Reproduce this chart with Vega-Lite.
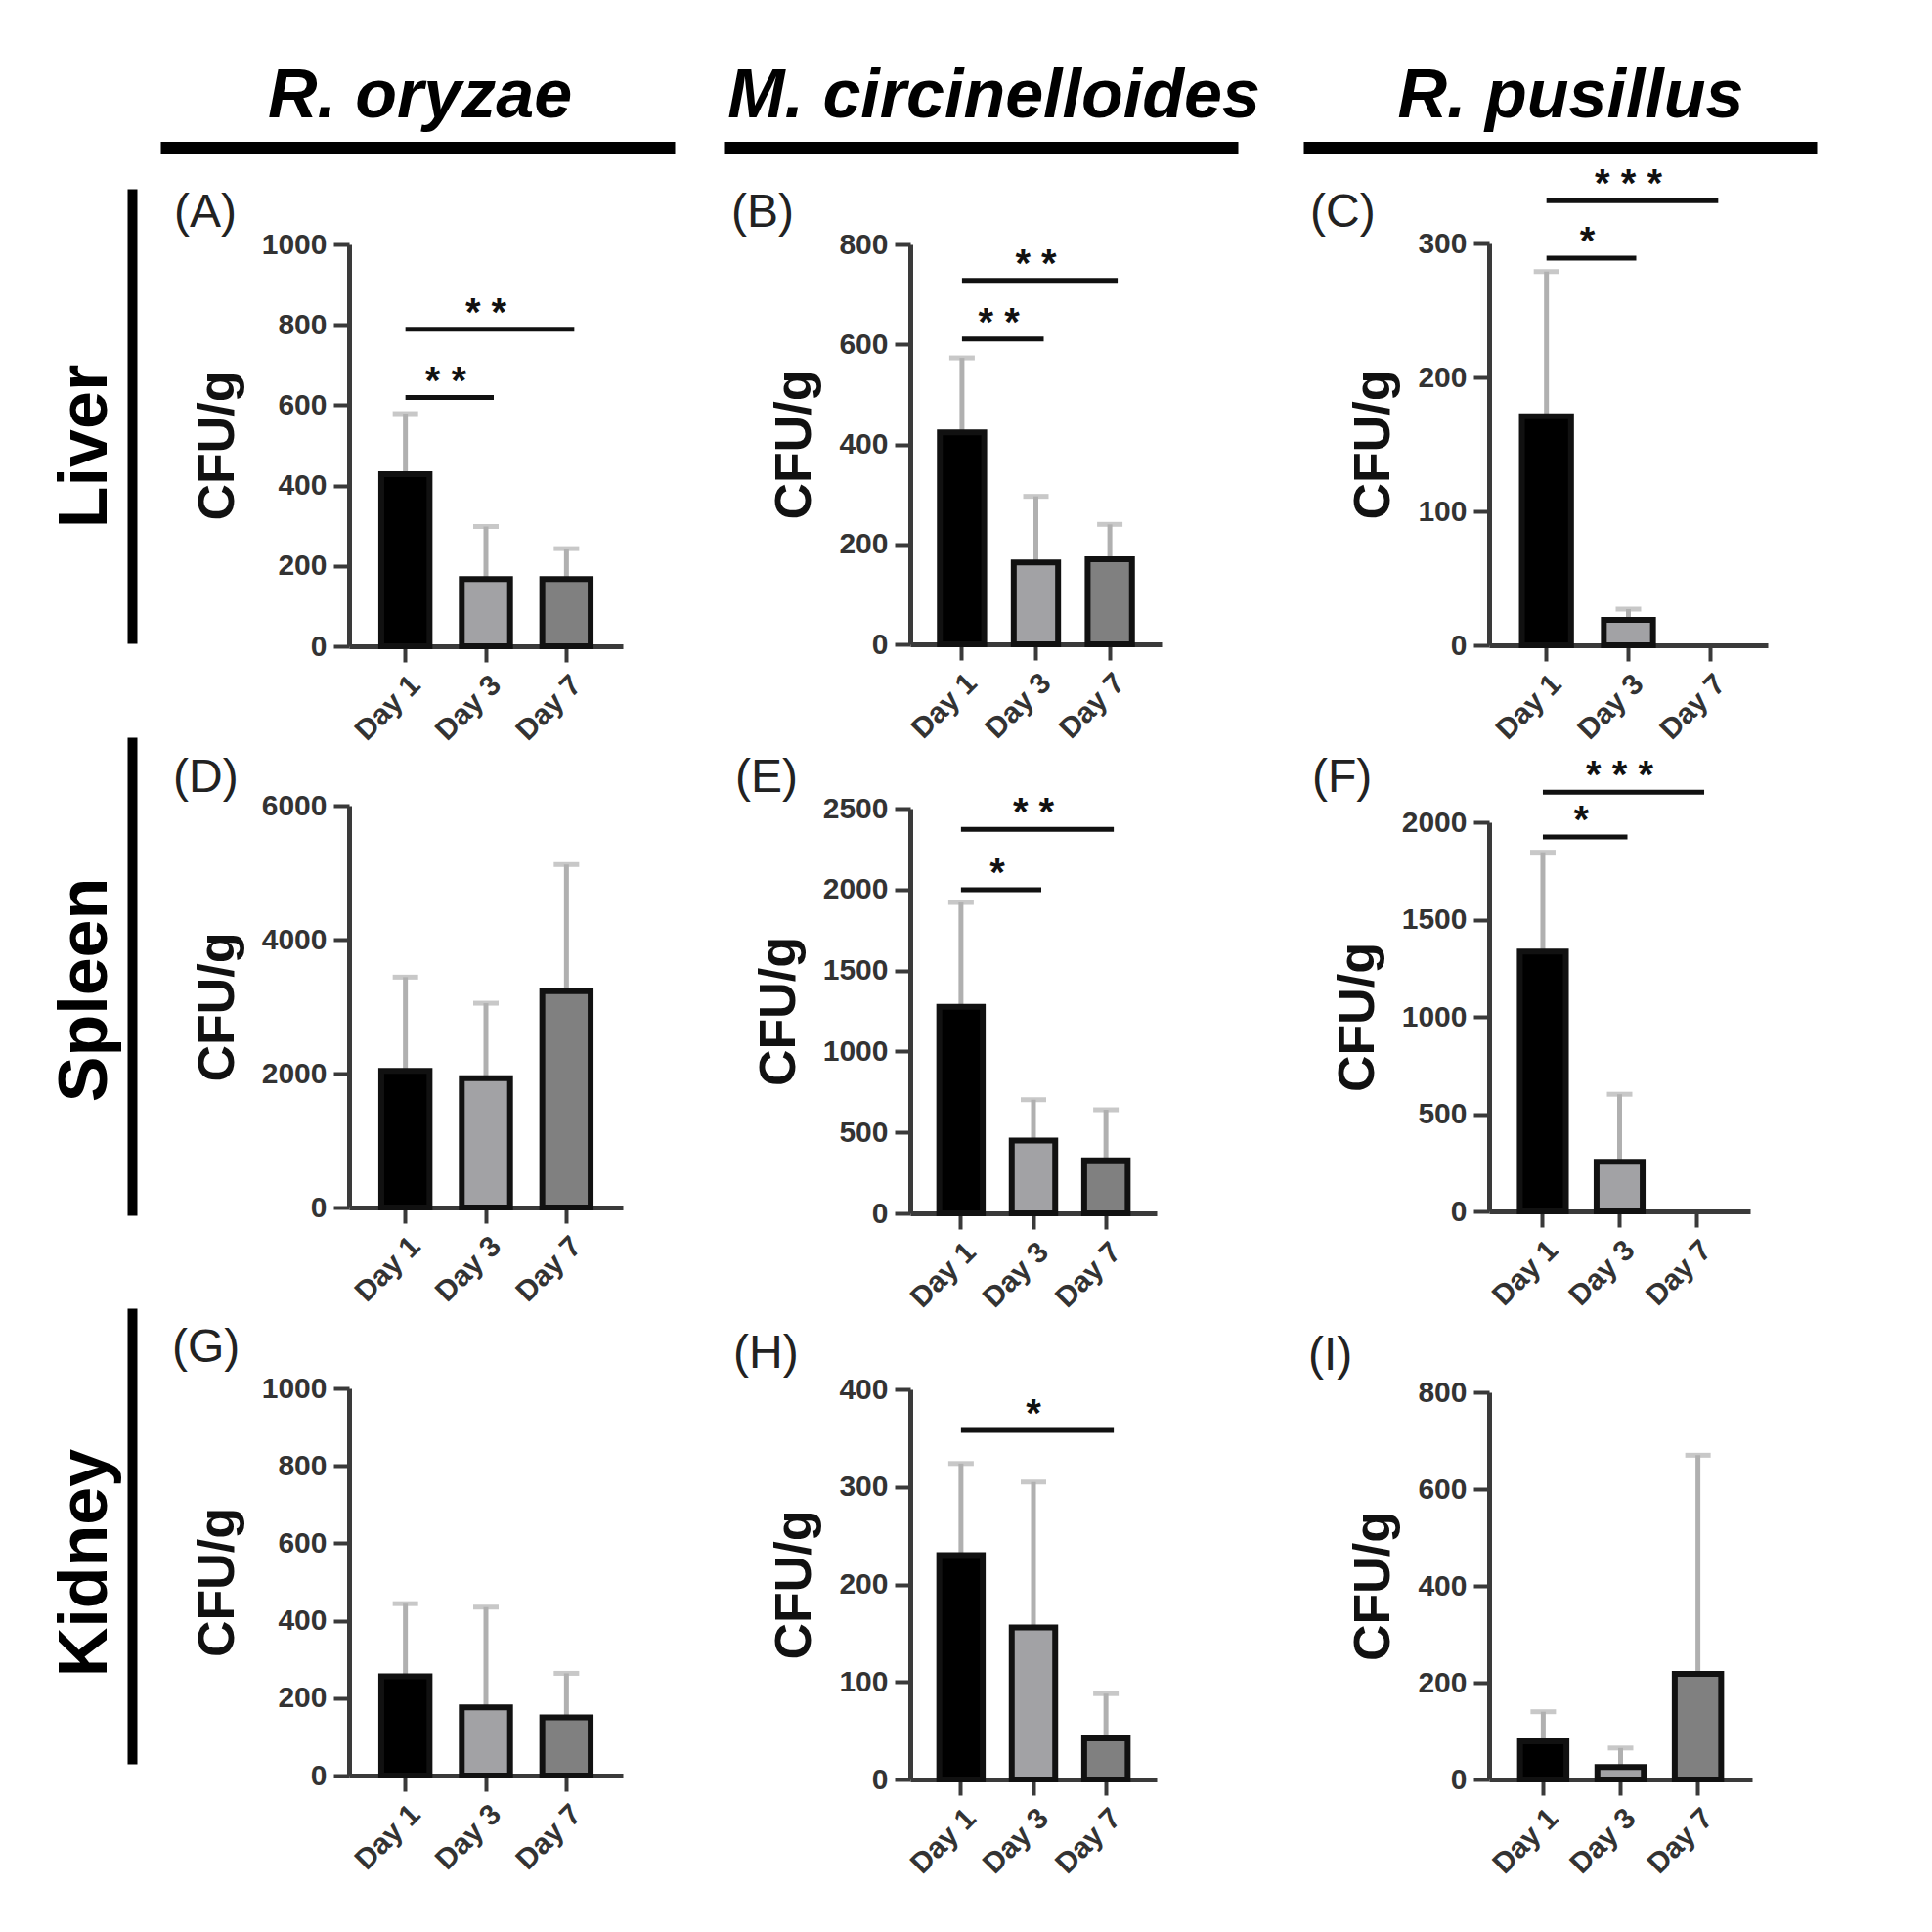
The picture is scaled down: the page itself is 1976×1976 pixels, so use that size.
{
"$schema": "https://vega.github.io/schema/vega-lite/v6.json",
"padding": {"left": 0, "top": 63, "right": 10, "bottom": 10},
"background": "white",
"datasets": {
"bars": [
{"panel":"A","day":"Day 1","value":428,"err":579},{"panel":"A","day":"Day 3","value":167,"err":298},{"panel":"A","day":"Day 7","value":167,"err":243},
{"panel":"B","day":"Day 1","value":424,"err":573},{"panel":"B","day":"Day 3","value":164,"err":296},{"panel":"B","day":"Day 7","value":170,"err":240},
{"panel":"C","day":"Day 1","value":171,"err":279},{"panel":"C","day":"Day 3","value":19,"err":27},{"panel":"C","day":"Day 7","value":0,"err":null},
{"panel":"D","day":"Day 1","value":2040,"err":3440},{"panel":"D","day":"Day 3","value":1930,"err":3050},{"panel":"D","day":"Day 7","value":3230,"err":5120},
{"panel":"E","day":"Day 1","value":1275,"err":1920},{"panel":"E","day":"Day 3","value":450,"err":702},{"panel":"E","day":"Day 7","value":328,"err":640},
{"panel":"F","day":"Day 1","value":1335,"err":1846},{"panel":"F","day":"Day 3","value":255,"err":602},{"panel":"F","day":"Day 7","value":0,"err":null},
{"panel":"G","day":"Day 1","value":256,"err":444},{"panel":"G","day":"Day 3","value":176,"err":435},{"panel":"G","day":"Day 7","value":150,"err":264},
{"panel":"H","day":"Day 1","value":230,"err":324},{"panel":"H","day":"Day 3","value":156,"err":305},{"panel":"H","day":"Day 7","value":42,"err":88},
{"panel":"I","day":"Day 1","value":79,"err":140},{"panel":"I","day":"Day 3","value":26,"err":65},{"panel":"I","day":"Day 7","value":218,"err":670}
],
"sig": [
{"panel":"A","from":"Day 1","to":"Day 3","level":619,"stars":"* *"},
{"panel":"A","from":"Day 1","to":"Day 7","level":789,"stars":"* *"},
{"panel":"B","from":"Day 1","to":"Day 3","level":611,"stars":"* *"},
{"panel":"B","from":"Day 1","to":"Day 7","level":728,"stars":"* *"},
{"panel":"C","from":"Day 1","to":"Day 3","level":289,"stars":"*"},
{"panel":"C","from":"Day 1","to":"Day 7","level":332,"stars":"* * *"},
{"panel":"E","from":"Day 1","to":"Day 3","level":1999,"stars":"*"},
{"panel":"E","from":"Day 1","to":"Day 7","level":2372,"stars":"* *"},
{"panel":"F","from":"Day 1","to":"Day 3","level":1924,"stars":"*"},
{"panel":"F","from":"Day 1","to":"Day 7","level":2154,"stars":"* * *"},
{"panel":"H","from":"Day 1","to":"Day 7","level":358,"stars":"*"}
],
"hdr": [{"p": 0}]
},
"config": {
"font": "Liberation Sans",
"view": {"stroke": null},
"axis": {"grid": false, "domainColor": "#3a3a3a", "domainWidth": 5, "tickColor": "#3a3a3a", "tickWidth": 4, "tickSize": 16, "labelFontSize": 30, "labelFontWeight": "bold", "labelColor": "#333", "titleFontSize": 52, "titleFontWeight": "bold", "titleColor": "#111", "labelFont": "Liberation Sans", "titleFont": "Liberation Sans"},
"axisX": {"labelAngle": -45, "labelPadding": 8},
"axisY": {"labelPadding": 7, "titlePadding": 18},
"title": {"font": "Liberation Sans"}
},
"columns": 8,
"spacing": {"row": 9, "column": 0},
"bounds": "flush",
"align": "each",
"concat": [
{"width": 135, "height": 11, "data": {"values": [{}]}, "mark": {"type": "point", "opacity": 0, "size": 0}},
{"width": 5, "height": 1, "data": {"values": [{}]}, "mark": {"type": "point", "opacity": 0, "size": 0}},
{"width": 217, "height": 6, "data": {"name": "hdr"}, "mark": {"type": "point", "opacity": 0, "size": 0},
 "encoding": {"x": {"field": "p", "type": "quantitative", "scale": {"domain": [0, 1], "range": [24, 550]}, "axis": {"orient": "bottom", "domainColor": "#000", "domainWidth": 13, "domainCap": "butt", "ticks": false, "labels": false, "title": "R. oryzae", "titleFontSize": 70, "titleFontStyle": "italic", "titleFontWeight": "bold", "titleColor": "#000", "titleBaseline": "alphabetic", "titleAlign": "center", "titleX": 289, "titleY": -32}}}},
{"width": 280, "height": 1, "data": {"values": [{}]}, "mark": {"type": "point", "opacity": 0, "size": 0}},
{"width": 294, "height": 6, "data": {"name": "hdr"}, "mark": {"type": "point", "opacity": 0, "size": 0},
 "encoding": {"x": {"field": "p", "type": "quantitative", "scale": {"domain": [0, 1], "range": [104, 629]}, "axis": {"orient": "bottom", "domainColor": "#000", "domainWidth": 13, "domainCap": "butt", "ticks": false, "labels": false, "title": "M. circinelloides", "titleFontSize": 70, "titleFontStyle": "italic", "titleFontWeight": "bold", "titleColor": "#000", "titleBaseline": "alphabetic", "titleAlign": "center", "titleX": 379, "titleY": -32}}}},
{"width": 257, "height": 1, "data": {"values": [{}]}, "mark": {"type": "point", "opacity": 0, "size": 0}},
{"width": 335, "height": 6, "data": {"name": "hdr"}, "mark": {"type": "point", "opacity": 0, "size": 0},
 "encoding": {"x": {"field": "p", "type": "quantitative", "scale": {"domain": [0, 1], "range": [145, 670]}, "axis": {"orient": "bottom", "domainColor": "#000", "domainWidth": 13, "domainCap": "butt", "ticks": false, "labels": false, "title": "R. pusillus", "titleFontSize": 70, "titleFontStyle": "italic", "titleFontWeight": "bold", "titleColor": "#000", "titleBaseline": "alphabetic", "titleAlign": "center", "titleX": 418, "titleY": -32}}}},
{"width": 360, "height": 1, "data": {"values": [{}]}, "mark": {"type": "point", "opacity": 0, "size": 0}},

{"width": 135, "height": 576, "data": {"values": [{}]}, "mark": {"type": "point", "opacity": 0, "size": 0}},
{"width": 5, "height": 493, "data": {"values": [{"v": 0}]}, "mark": {"type": "point", "opacity": 0, "size": 0},
 "encoding": {"y": {"field": "v", "type": "quantitative", "scale": {"domain": [0, 1], "range": [493, 28]}, "axis": {"title": "Liver", "ticks": false, "labels": false, "domainColor": "#000", "domainWidth": 10, "titleFontSize": 70, "titleColor": "#000", "titlePadding": 12, "titleY": 291, "titleFontWeight": "bold"}}}},
{"width": 217, "height": 1, "data": {"values": [{}]}, "mark": {"type": "point", "opacity": 0, "size": 0}},
{"width": 280, "height": 496,
 "title": {"text": "(A)", "anchor": "start", "frame": "group", "offset": 0, "dx": -179, "dy": 115, "baseline": "alphabetic", "fontSize": 48, "fontWeight": "normal", "color": "#222"},
 "layer": [
  {"data": {"name": "bars"}, "transform": [{"filter": "datum.panel == 'A' && datum.err != null"}], "mark": {"type": "rule", "color": "#b0b0b0", "strokeWidth": 5},
   "encoding": {"x": {"field": "day", "type": "nominal", "scale": {"type": "band", "domain": ["Day 1", "Day 3", "Day 7"], "paddingInner": 0.4, "paddingOuter": 0.4}, "axis": {"title": null}},
    "y": {"field": "value", "type": "quantitative", "title": "CFU/g", "scale": {"domain": [0, 1000], "range": [496, 85], "nice": false}, "axis": {"title": "CFU/g", "format": "d", "values": [0, 200, 400, 600, 800, 1000]}}, "y2": {"field": "err"}}},
  {"data": {"name": "bars"}, "transform": [{"filter": "datum.panel == 'A' && datum.err != null"}], "mark": {"type": "tick", "color": "#b0b0b0", "thickness": 5, "size": 26},
   "encoding": {"x": {"field": "day", "type": "nominal", "title": null}, "y": {"field": "err", "type": "quantitative", "title": "CFU/g"}}},
  {"data": {"name": "bars"}, "transform": [{"filter": "datum.panel == 'A' && datum.value > 0"}], "mark": {"type": "bar", "stroke": "#111", "strokeWidth": 6},
   "encoding": {"x": {"field": "day", "type": "nominal", "title": null}, "y": {"field": "value", "type": "quantitative", "title": "CFU/g"}, "color": {"field": "day", "type": "nominal", "scale": {"domain": ["Day 1", "Day 3", "Day 7"], "range": ["#000000", "#a2a2a5", "#808080"]}, "legend": null}}},
  {"data": {"name": "sig"}, "transform": [{"filter": "datum.panel == 'A'"}], "mark": {"type": "rule", "color": "#111", "strokeWidth": 5, "x2Offset": 8},
   "encoding": {"x": {"field": "from", "type": "nominal", "title": null}, "x2": {"field": "to"}, "y": {"field": "level", "type": "quantitative", "title": "CFU/g"}}},
  {"data": {"name": "sig"}, "transform": [{"filter": "datum.panel == 'A' && datum.to == 'Day 3'"}], "mark": {"type": "text", "fontSize": 40, "fontWeight": "bold", "baseline": "alphabetic", "align": "center", "dy": -4, "color": "#111"},
   "encoding": {"x": {"field": "from", "type": "nominal", "bandPosition": 1.3333, "title": null}, "y": {"field": "level", "type": "quantitative", "title": "CFU/g"}, "text": {"field": "stars"}}},
  {"data": {"name": "sig"}, "transform": [{"filter": "datum.panel == 'A' && datum.to == 'Day 7'"}], "mark": {"type": "text", "fontSize": 40, "fontWeight": "bold", "baseline": "alphabetic", "align": "center", "dy": -4, "color": "#111"},
   "encoding": {"x": {"field": "from", "type": "nominal", "bandPosition": 2.1667, "title": null}, "y": {"field": "level", "type": "quantitative", "title": "CFU/g"}, "text": {"field": "stars"}}}
 ]},
{"width": 294, "height": 1, "data": {"values": [{}]}, "mark": {"type": "point", "opacity": 0, "size": 0}},
{"width": 257, "height": 494,
 "title": {"text": "(B)", "anchor": "start", "frame": "group", "offset": 0, "dx": -183, "dy": 115, "baseline": "alphabetic", "fontSize": 48, "fontWeight": "normal", "color": "#222"},
 "layer": [
  {"data": {"name": "bars"}, "transform": [{"filter": "datum.panel == 'B' && datum.err != null"}], "mark": {"type": "rule", "color": "#b0b0b0", "strokeWidth": 5},
   "encoding": {"x": {"field": "day", "type": "nominal", "scale": {"type": "band", "domain": ["Day 1", "Day 3", "Day 7"], "paddingInner": 0.4, "paddingOuter": 0.4}, "axis": {"title": null}},
    "y": {"field": "value", "type": "quantitative", "title": "CFU/g", "scale": {"domain": [0, 800], "range": [494, 85], "nice": false}, "axis": {"title": "CFU/g", "format": "d", "values": [0, 200, 400, 600, 800]}}, "y2": {"field": "err"}}},
  {"data": {"name": "bars"}, "transform": [{"filter": "datum.panel == 'B' && datum.err != null"}], "mark": {"type": "tick", "color": "#b0b0b0", "thickness": 5, "size": 26},
   "encoding": {"x": {"field": "day", "type": "nominal", "title": null}, "y": {"field": "err", "type": "quantitative", "title": "CFU/g"}}},
  {"data": {"name": "bars"}, "transform": [{"filter": "datum.panel == 'B' && datum.value > 0"}], "mark": {"type": "bar", "stroke": "#111", "strokeWidth": 6},
   "encoding": {"x": {"field": "day", "type": "nominal", "title": null}, "y": {"field": "value", "type": "quantitative", "title": "CFU/g"}, "color": {"field": "day", "type": "nominal", "scale": {"domain": ["Day 1", "Day 3", "Day 7"], "range": ["#000000", "#a2a2a5", "#808080"]}, "legend": null}}},
  {"data": {"name": "sig"}, "transform": [{"filter": "datum.panel == 'B'"}], "mark": {"type": "rule", "color": "#111", "strokeWidth": 5, "x2Offset": 8},
   "encoding": {"x": {"field": "from", "type": "nominal", "title": null}, "x2": {"field": "to"}, "y": {"field": "level", "type": "quantitative", "title": "CFU/g"}}},
  {"data": {"name": "sig"}, "transform": [{"filter": "datum.panel == 'B' && datum.to == 'Day 3'"}], "mark": {"type": "text", "fontSize": 40, "fontWeight": "bold", "baseline": "alphabetic", "align": "center", "dy": -4, "color": "#111"},
   "encoding": {"x": {"field": "from", "type": "nominal", "bandPosition": 1.3333, "title": null}, "y": {"field": "level", "type": "quantitative", "title": "CFU/g"}, "text": {"field": "stars"}}},
  {"data": {"name": "sig"}, "transform": [{"filter": "datum.panel == 'B' && datum.to == 'Day 7'"}], "mark": {"type": "text", "fontSize": 40, "fontWeight": "bold", "baseline": "alphabetic", "align": "center", "dy": -4, "color": "#111"},
   "encoding": {"x": {"field": "from", "type": "nominal", "bandPosition": 2.1667, "title": null}, "y": {"field": "level", "type": "quantitative", "title": "CFU/g"}, "text": {"field": "stars"}}}
 ]},
{"width": 335, "height": 1, "data": {"values": [{}]}, "mark": {"type": "point", "opacity": 0, "size": 0}},
{"width": 285, "height": 495,
 "title": {"text": "(C)", "anchor": "start", "frame": "group", "offset": 0, "dx": -183, "dy": 115, "baseline": "alphabetic", "fontSize": 48, "fontWeight": "normal", "color": "#222"},
 "layer": [
  {"data": {"name": "bars"}, "transform": [{"filter": "datum.panel == 'C' && datum.err != null"}], "mark": {"type": "rule", "color": "#b0b0b0", "strokeWidth": 5},
   "encoding": {"x": {"field": "day", "type": "nominal", "scale": {"type": "band", "domain": ["Day 1", "Day 3", "Day 7"], "paddingInner": 0.4, "paddingOuter": 0.4}, "axis": {"title": null}},
    "y": {"field": "value", "type": "quantitative", "title": "CFU/g", "scale": {"domain": [0, 300], "range": [495, 84], "nice": false}, "axis": {"title": "CFU/g", "format": "d", "values": [0, 100, 200, 300]}}, "y2": {"field": "err"}}},
  {"data": {"name": "bars"}, "transform": [{"filter": "datum.panel == 'C' && datum.err != null"}], "mark": {"type": "tick", "color": "#b0b0b0", "thickness": 5, "size": 26},
   "encoding": {"x": {"field": "day", "type": "nominal", "title": null}, "y": {"field": "err", "type": "quantitative", "title": "CFU/g"}}},
  {"data": {"name": "bars"}, "transform": [{"filter": "datum.panel == 'C' && datum.value > 0"}], "mark": {"type": "bar", "stroke": "#111", "strokeWidth": 6},
   "encoding": {"x": {"field": "day", "type": "nominal", "title": null}, "y": {"field": "value", "type": "quantitative", "title": "CFU/g"}, "color": {"field": "day", "type": "nominal", "scale": {"domain": ["Day 1", "Day 3", "Day 7"], "range": ["#000000", "#a2a2a5", "#808080"]}, "legend": null}}},
  {"data": {"name": "sig"}, "transform": [{"filter": "datum.panel == 'C'"}], "mark": {"type": "rule", "color": "#111", "strokeWidth": 5, "x2Offset": 8},
   "encoding": {"x": {"field": "from", "type": "nominal", "title": null}, "x2": {"field": "to"}, "y": {"field": "level", "type": "quantitative", "title": "CFU/g"}}},
  {"data": {"name": "sig"}, "transform": [{"filter": "datum.panel == 'C' && datum.to == 'Day 3'"}], "mark": {"type": "text", "fontSize": 40, "fontWeight": "bold", "baseline": "alphabetic", "align": "center", "dy": -4, "color": "#111"},
   "encoding": {"x": {"field": "from", "type": "nominal", "bandPosition": 1.3333, "title": null}, "y": {"field": "level", "type": "quantitative", "title": "CFU/g"}, "text": {"field": "stars"}}},
  {"data": {"name": "sig"}, "transform": [{"filter": "datum.panel == 'C' && datum.to == 'Day 7'"}], "mark": {"type": "text", "fontSize": 40, "fontWeight": "bold", "baseline": "alphabetic", "align": "center", "dy": -4, "color": "#111"},
   "encoding": {"x": {"field": "from", "type": "nominal", "bandPosition": 2.1667, "title": null}, "y": {"field": "level", "type": "quantitative", "title": "CFU/g"}, "text": {"field": "stars"}}}
 ]},

{"width": 135, "height": 571, "data": {"values": [{}]}, "mark": {"type": "point", "opacity": 0, "size": 0}},
{"width": 5, "height": 493, "data": {"values": [{"v": 0}]}, "mark": {"type": "point", "opacity": 0, "size": 0},
 "encoding": {"y": {"field": "v", "type": "quantitative", "scale": {"domain": [0, 1], "range": [493, 4]}, "axis": {"title": "Spleen", "ticks": false, "labels": false, "domainColor": "#000", "domainWidth": 10, "titleFontSize": 70, "titleColor": "#000", "titlePadding": 12, "titleY": 262, "titleFontWeight": "bold"}}}},
{"width": 217, "height": 1, "data": {"values": [{}]}, "mark": {"type": "point", "opacity": 0, "size": 0}},
{"width": 280, "height": 485,
 "title": {"text": "(D)", "anchor": "start", "frame": "group", "offset": 0, "dx": -180, "dy": 108, "baseline": "alphabetic", "fontSize": 48, "fontWeight": "normal", "color": "#222"},
 "layer": [
  {"data": {"name": "bars"}, "transform": [{"filter": "datum.panel == 'D' && datum.err != null"}], "mark": {"type": "rule", "color": "#b0b0b0", "strokeWidth": 5},
   "encoding": {"x": {"field": "day", "type": "nominal", "scale": {"type": "band", "domain": ["Day 1", "Day 3", "Day 7"], "paddingInner": 0.4, "paddingOuter": 0.4}, "axis": {"title": null}},
    "y": {"field": "value", "type": "quantitative", "title": "CFU/g", "scale": {"domain": [0, 6000], "range": [485, 74], "nice": false}, "axis": {"title": "CFU/g", "format": "d", "values": [0, 2000, 4000, 6000]}}, "y2": {"field": "err"}}},
  {"data": {"name": "bars"}, "transform": [{"filter": "datum.panel == 'D' && datum.err != null"}], "mark": {"type": "tick", "color": "#b0b0b0", "thickness": 5, "size": 26},
   "encoding": {"x": {"field": "day", "type": "nominal", "title": null}, "y": {"field": "err", "type": "quantitative", "title": "CFU/g"}}},
  {"data": {"name": "bars"}, "transform": [{"filter": "datum.panel == 'D' && datum.value > 0"}], "mark": {"type": "bar", "stroke": "#111", "strokeWidth": 6},
   "encoding": {"x": {"field": "day", "type": "nominal", "title": null}, "y": {"field": "value", "type": "quantitative", "title": "CFU/g"}, "color": {"field": "day", "type": "nominal", "scale": {"domain": ["Day 1", "Day 3", "Day 7"], "range": ["#000000", "#a2a2a5", "#808080"]}, "legend": null}}}
 ]},
{"width": 294, "height": 1, "data": {"values": [{}]}, "mark": {"type": "point", "opacity": 0, "size": 0}},
{"width": 252, "height": 491,
 "title": {"text": "(E)", "anchor": "start", "frame": "group", "offset": 0, "dx": -179, "dy": 108, "baseline": "alphabetic", "fontSize": 48, "fontWeight": "normal", "color": "#222"},
 "layer": [
  {"data": {"name": "bars"}, "transform": [{"filter": "datum.panel == 'E' && datum.err != null"}], "mark": {"type": "rule", "color": "#b0b0b0", "strokeWidth": 5},
   "encoding": {"x": {"field": "day", "type": "nominal", "scale": {"type": "band", "domain": ["Day 1", "Day 3", "Day 7"], "paddingInner": 0.4, "paddingOuter": 0.4}, "axis": {"title": null}},
    "y": {"field": "value", "type": "quantitative", "title": "CFU/g", "scale": {"domain": [0, 2500], "range": [491, 77], "nice": false}, "axis": {"title": "CFU/g", "format": "d", "values": [0, 500, 1000, 1500, 2000, 2500]}}, "y2": {"field": "err"}}},
  {"data": {"name": "bars"}, "transform": [{"filter": "datum.panel == 'E' && datum.err != null"}], "mark": {"type": "tick", "color": "#b0b0b0", "thickness": 5, "size": 26},
   "encoding": {"x": {"field": "day", "type": "nominal", "title": null}, "y": {"field": "err", "type": "quantitative", "title": "CFU/g"}}},
  {"data": {"name": "bars"}, "transform": [{"filter": "datum.panel == 'E' && datum.value > 0"}], "mark": {"type": "bar", "stroke": "#111", "strokeWidth": 6},
   "encoding": {"x": {"field": "day", "type": "nominal", "title": null}, "y": {"field": "value", "type": "quantitative", "title": "CFU/g"}, "color": {"field": "day", "type": "nominal", "scale": {"domain": ["Day 1", "Day 3", "Day 7"], "range": ["#000000", "#a2a2a5", "#808080"]}, "legend": null}}},
  {"data": {"name": "sig"}, "transform": [{"filter": "datum.panel == 'E'"}], "mark": {"type": "rule", "color": "#111", "strokeWidth": 5, "x2Offset": 8},
   "encoding": {"x": {"field": "from", "type": "nominal", "title": null}, "x2": {"field": "to"}, "y": {"field": "level", "type": "quantitative", "title": "CFU/g"}}},
  {"data": {"name": "sig"}, "transform": [{"filter": "datum.panel == 'E' && datum.to == 'Day 3'"}], "mark": {"type": "text", "fontSize": 40, "fontWeight": "bold", "baseline": "alphabetic", "align": "center", "dy": -4, "color": "#111"},
   "encoding": {"x": {"field": "from", "type": "nominal", "bandPosition": 1.3333, "title": null}, "y": {"field": "level", "type": "quantitative", "title": "CFU/g"}, "text": {"field": "stars"}}},
  {"data": {"name": "sig"}, "transform": [{"filter": "datum.panel == 'E' && datum.to == 'Day 7'"}], "mark": {"type": "text", "fontSize": 40, "fontWeight": "bold", "baseline": "alphabetic", "align": "center", "dy": -4, "color": "#111"},
   "encoding": {"x": {"field": "from", "type": "nominal", "bandPosition": 2.1667, "title": null}, "y": {"field": "level", "type": "quantitative", "title": "CFU/g"}, "text": {"field": "stars"}}}
 ]},
{"width": 335, "height": 1, "data": {"values": [{}]}, "mark": {"type": "point", "opacity": 0, "size": 0}},
{"width": 267, "height": 489,
 "title": {"text": "(F)", "anchor": "start", "frame": "group", "offset": 0, "dx": -181, "dy": 108, "baseline": "alphabetic", "fontSize": 48, "fontWeight": "normal", "color": "#222"},
 "layer": [
  {"data": {"name": "bars"}, "transform": [{"filter": "datum.panel == 'F' && datum.err != null"}], "mark": {"type": "rule", "color": "#b0b0b0", "strokeWidth": 5},
   "encoding": {"x": {"field": "day", "type": "nominal", "scale": {"type": "band", "domain": ["Day 1", "Day 3", "Day 7"], "paddingInner": 0.4, "paddingOuter": 0.4}, "axis": {"title": null}},
    "y": {"field": "value", "type": "quantitative", "title": "CFU/g", "scale": {"domain": [0, 2000], "range": [489, 91], "nice": false}, "axis": {"title": "CFU/g", "format": "d", "values": [0, 500, 1000, 1500, 2000]}}, "y2": {"field": "err"}}},
  {"data": {"name": "bars"}, "transform": [{"filter": "datum.panel == 'F' && datum.err != null"}], "mark": {"type": "tick", "color": "#b0b0b0", "thickness": 5, "size": 26},
   "encoding": {"x": {"field": "day", "type": "nominal", "title": null}, "y": {"field": "err", "type": "quantitative", "title": "CFU/g"}}},
  {"data": {"name": "bars"}, "transform": [{"filter": "datum.panel == 'F' && datum.value > 0"}], "mark": {"type": "bar", "stroke": "#111", "strokeWidth": 6},
   "encoding": {"x": {"field": "day", "type": "nominal", "title": null}, "y": {"field": "value", "type": "quantitative", "title": "CFU/g"}, "color": {"field": "day", "type": "nominal", "scale": {"domain": ["Day 1", "Day 3", "Day 7"], "range": ["#000000", "#a2a2a5", "#808080"]}, "legend": null}}},
  {"data": {"name": "sig"}, "transform": [{"filter": "datum.panel == 'F'"}], "mark": {"type": "rule", "color": "#111", "strokeWidth": 5, "x2Offset": 8},
   "encoding": {"x": {"field": "from", "type": "nominal", "title": null}, "x2": {"field": "to"}, "y": {"field": "level", "type": "quantitative", "title": "CFU/g"}}},
  {"data": {"name": "sig"}, "transform": [{"filter": "datum.panel == 'F' && datum.to == 'Day 3'"}], "mark": {"type": "text", "fontSize": 40, "fontWeight": "bold", "baseline": "alphabetic", "align": "center", "dy": -4, "color": "#111"},
   "encoding": {"x": {"field": "from", "type": "nominal", "bandPosition": 1.3333, "title": null}, "y": {"field": "level", "type": "quantitative", "title": "CFU/g"}, "text": {"field": "stars"}}},
  {"data": {"name": "sig"}, "transform": [{"filter": "datum.panel == 'F' && datum.to == 'Day 7'"}], "mark": {"type": "text", "fontSize": 40, "fontWeight": "bold", "baseline": "alphabetic", "align": "center", "dy": -4, "color": "#111"},
   "encoding": {"x": {"field": "from", "type": "nominal", "bandPosition": 2.1667, "title": null}, "y": {"field": "level", "type": "quantitative", "title": "CFU/g"}, "text": {"field": "stars"}}}
 ]},

{"width": 135, "height": 1, "data": {"values": [{}]}, "mark": {"type": "point", "opacity": 0, "size": 0}},
{"width": 5, "height": 474, "data": {"values": [{"v": 0}]}, "mark": {"type": "point", "opacity": 0, "size": 0},
 "encoding": {"y": {"field": "v", "type": "quantitative", "scale": {"domain": [0, 1], "range": [474, 8]}, "axis": {"title": "Kidney", "ticks": false, "labels": false, "domainColor": "#000", "domainWidth": 10, "titleFontSize": 70, "titleColor": "#000", "titlePadding": 12, "titleY": 268, "titleFontWeight": "bold"}}}},
{"width": 217, "height": 1, "data": {"values": [{}]}, "mark": {"type": "point", "opacity": 0, "size": 0}},
{"width": 280, "height": 486,
 "title": {"text": "(G)", "anchor": "start", "frame": "group", "offset": 0, "dx": -181, "dy": 111, "baseline": "alphabetic", "fontSize": 48, "fontWeight": "normal", "color": "#222"},
 "layer": [
  {"data": {"name": "bars"}, "transform": [{"filter": "datum.panel == 'G' && datum.err != null"}], "mark": {"type": "rule", "color": "#b0b0b0", "strokeWidth": 5},
   "encoding": {"x": {"field": "day", "type": "nominal", "scale": {"type": "band", "domain": ["Day 1", "Day 3", "Day 7"], "paddingInner": 0.4, "paddingOuter": 0.4}, "axis": {"title": null}},
    "y": {"field": "value", "type": "quantitative", "title": "CFU/g", "scale": {"domain": [0, 1000], "range": [486, 90], "nice": false}, "axis": {"title": "CFU/g", "format": "d", "values": [0, 200, 400, 600, 800, 1000]}}, "y2": {"field": "err"}}},
  {"data": {"name": "bars"}, "transform": [{"filter": "datum.panel == 'G' && datum.err != null"}], "mark": {"type": "tick", "color": "#b0b0b0", "thickness": 5, "size": 26},
   "encoding": {"x": {"field": "day", "type": "nominal", "title": null}, "y": {"field": "err", "type": "quantitative", "title": "CFU/g"}}},
  {"data": {"name": "bars"}, "transform": [{"filter": "datum.panel == 'G' && datum.value > 0"}], "mark": {"type": "bar", "stroke": "#111", "strokeWidth": 6},
   "encoding": {"x": {"field": "day", "type": "nominal", "title": null}, "y": {"field": "value", "type": "quantitative", "title": "CFU/g"}, "color": {"field": "day", "type": "nominal", "scale": {"domain": ["Day 1", "Day 3", "Day 7"], "range": ["#000000", "#a2a2a5", "#808080"]}, "legend": null}}}
 ]},
{"width": 294, "height": 1, "data": {"values": [{}]}, "mark": {"type": "point", "opacity": 0, "size": 0}},
{"width": 252, "height": 490,
 "title": {"text": "(H)", "anchor": "start", "frame": "group", "offset": 0, "dx": -181, "dy": 117, "baseline": "alphabetic", "fontSize": 48, "fontWeight": "normal", "color": "#222"},
 "layer": [
  {"data": {"name": "bars"}, "transform": [{"filter": "datum.panel == 'H' && datum.err != null"}], "mark": {"type": "rule", "color": "#b0b0b0", "strokeWidth": 5},
   "encoding": {"x": {"field": "day", "type": "nominal", "scale": {"type": "band", "domain": ["Day 1", "Day 3", "Day 7"], "paddingInner": 0.4, "paddingOuter": 0.4}, "axis": {"title": null}},
    "y": {"field": "value", "type": "quantitative", "title": "CFU/g", "scale": {"domain": [0, 400], "range": [490, 91], "nice": false}, "axis": {"title": "CFU/g", "format": "d", "values": [0, 100, 200, 300, 400]}}, "y2": {"field": "err"}}},
  {"data": {"name": "bars"}, "transform": [{"filter": "datum.panel == 'H' && datum.err != null"}], "mark": {"type": "tick", "color": "#b0b0b0", "thickness": 5, "size": 26},
   "encoding": {"x": {"field": "day", "type": "nominal", "title": null}, "y": {"field": "err", "type": "quantitative", "title": "CFU/g"}}},
  {"data": {"name": "bars"}, "transform": [{"filter": "datum.panel == 'H' && datum.value > 0"}], "mark": {"type": "bar", "stroke": "#111", "strokeWidth": 6},
   "encoding": {"x": {"field": "day", "type": "nominal", "title": null}, "y": {"field": "value", "type": "quantitative", "title": "CFU/g"}, "color": {"field": "day", "type": "nominal", "scale": {"domain": ["Day 1", "Day 3", "Day 7"], "range": ["#000000", "#a2a2a5", "#808080"]}, "legend": null}}},
  {"data": {"name": "sig"}, "transform": [{"filter": "datum.panel == 'H'"}], "mark": {"type": "rule", "color": "#111", "strokeWidth": 5, "x2Offset": 8},
   "encoding": {"x": {"field": "from", "type": "nominal", "title": null}, "x2": {"field": "to"}, "y": {"field": "level", "type": "quantitative", "title": "CFU/g"}}},
  {"data": {"name": "sig"}, "transform": [{"filter": "datum.panel == 'H' && datum.to == 'Day 7'"}], "mark": {"type": "text", "fontSize": 40, "fontWeight": "bold", "baseline": "alphabetic", "align": "center", "dy": -4, "color": "#111"},
   "encoding": {"x": {"field": "from", "type": "nominal", "bandPosition": 2.1667, "title": null}, "y": {"field": "level", "type": "quantitative", "title": "CFU/g"}, "text": {"field": "stars"}}}
 ]},
{"width": 335, "height": 1, "data": {"values": [{}]}, "mark": {"type": "point", "opacity": 0, "size": 0}},
{"width": 269, "height": 490,
 "title": {"text": "(I)", "anchor": "start", "frame": "group", "offset": 0, "dx": -185, "dy": 119, "baseline": "alphabetic", "fontSize": 48, "fontWeight": "normal", "color": "#222"},
 "layer": [
  {"data": {"name": "bars"}, "transform": [{"filter": "datum.panel == 'I' && datum.err != null"}], "mark": {"type": "rule", "color": "#b0b0b0", "strokeWidth": 5},
   "encoding": {"x": {"field": "day", "type": "nominal", "scale": {"type": "band", "domain": ["Day 1", "Day 3", "Day 7"], "paddingInner": 0.4, "paddingOuter": 0.4}, "axis": {"title": null}},
    "y": {"field": "value", "type": "quantitative", "title": "CFU/g", "scale": {"domain": [0, 800], "range": [490, 94], "nice": false}, "axis": {"title": "CFU/g", "format": "d", "values": [0, 200, 400, 600, 800]}}, "y2": {"field": "err"}}},
  {"data": {"name": "bars"}, "transform": [{"filter": "datum.panel == 'I' && datum.err != null"}], "mark": {"type": "tick", "color": "#b0b0b0", "thickness": 5, "size": 26},
   "encoding": {"x": {"field": "day", "type": "nominal", "title": null}, "y": {"field": "err", "type": "quantitative", "title": "CFU/g"}}},
  {"data": {"name": "bars"}, "transform": [{"filter": "datum.panel == 'I' && datum.value > 0"}], "mark": {"type": "bar", "stroke": "#111", "strokeWidth": 6},
   "encoding": {"x": {"field": "day", "type": "nominal", "title": null}, "y": {"field": "value", "type": "quantitative", "title": "CFU/g"}, "color": {"field": "day", "type": "nominal", "scale": {"domain": ["Day 1", "Day 3", "Day 7"], "range": ["#000000", "#a2a2a5", "#808080"]}, "legend": null}}}
 ]}
]
}
